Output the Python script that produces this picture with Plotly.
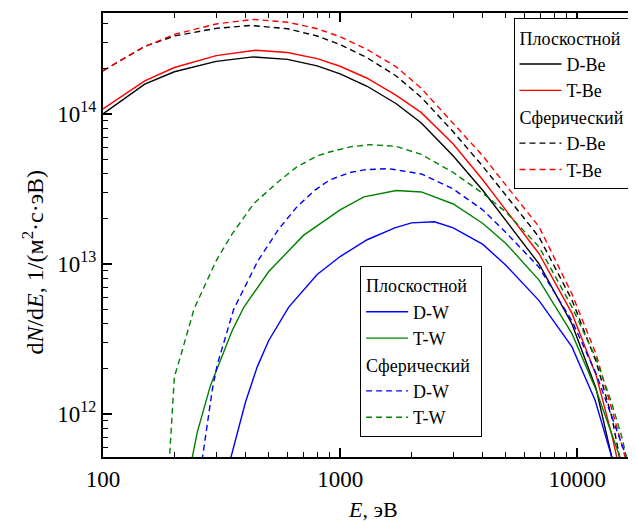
import plotly.graph_objects as go

# ---- data ----
E_dbe_pl = [100, 150, 200, 300, 430, 600, 800, 1000, 1300, 1725, 2200, 3000, 4000, 5000, 6900, 9500, 12000, 13960, 14500]
N_dbe_pl = [1.00e14, 1.58e14, 1.91e14, 2.24e14, 2.40e14, 2.31e14, 2.09e14, 1.85e14, 1.53e14, 1.17e14, 8.7e13, 5.25e13, 3.09e13, 1.95e13, 1.0e13, 3.98e12, 1.48e12, 5.2e11, 3.6e11]

E_tbe_pl = [100, 150, 200, 300, 440, 600, 800, 1000, 1300, 1725, 2200, 3000, 4000, 5000, 6900, 9500, 12000, 14000, 14660, 15200]
N_tbe_pl = [1.08e14, 1.66e14, 2.04e14, 2.45e14, 2.66e14, 2.57e14, 2.34e14, 2.08e14, 1.73e14, 1.33e14, 1.02e14, 6.3e13, 3.63e13, 2.28e13, 1.17e13, 4.68e12, 1.82e12, 7.2e11, 5.2e11, 3.7e11]

E_dbe_sp = [100, 150, 200, 300, 420, 600, 800, 1000, 1300, 1725, 2200, 3000, 4000, 5000, 6900, 9500, 12000, 14000, 15100, 15800]
N_dbe_sp = [1.94e14, 2.82e14, 3.31e14, 3.72e14, 3.89e14, 3.70e14, 3.31e14, 2.90e14, 2.37e14, 1.79e14, 1.29e14, 7.6e13, 4.47e13, 2.87e13, 1.51e13, 5.75e12, 2.24e12, 9.5e11, 5.2e11, 3.5e11]

E_tbe_sp = [100, 150, 200, 300, 430, 600, 800, 1000, 1300, 1725, 2200, 3000, 4000, 5000, 6900, 9500, 12000, 14000, 15900, 16600]
N_tbe_sp = [1.94e14, 2.82e14, 3.39e14, 3.98e14, 4.27e14, 4.09e14, 3.70e14, 3.27e14, 2.69e14, 2.06e14, 1.48e14, 8.7e13, 5.25e13, 3.35e13, 1.77e13, 6.3e12, 2.51e12, 1.07e12, 5.2e11, 3.8e11]

E_dw_pl = [340, 399, 447, 500, 607, 800, 1000, 1300, 1700, 2000, 2500, 3000, 4000, 5000, 6900, 9500, 11900, 13960, 14500]
N_dw_pl = [4.6e11, 1.2e12, 2.06e12, 3.09e12, 5.16e12, 8.5e12, 1.12e13, 1.45e13, 1.74e13, 1.88e13, 1.91e13, 1.74e13, 1.35e13, 9.8e12, 5.7e12, 2.8e12, 1.23e12, 5.2e11, 3.6e11]

E_tw_pl = [234, 250, 284, 351, 393, 500, 700, 1000, 1260, 1725, 2200, 3000, 4000, 5000, 6900, 9500, 12000, 14000, 15100, 15700]
N_tw_pl = [4.5e11, 7.6e11, 1.55e12, 3.61e12, 5.16e12, 8.9e12, 1.55e13, 2.29e13, 2.80e13, 3.09e13, 3.02e13, 2.51e13, 1.86e13, 1.37e13, 7.8e12, 3.43e12, 1.45e12, 7.4e11, 5.2e11, 4.0e11]

E_dw_sp = [258, 289, 303, 356, 450, 550, 657, 780, 903, 1100, 1260, 1600, 2200, 3000, 4000, 5000, 6900, 9500, 12000, 14000, 16100, 16800]
N_dw_sp = [4.2e11, 1.45e12, 2.12e12, 5.0e12, 1.05e13, 1.70e13, 2.40e13, 3.09e13, 3.63e13, 4.07e13, 4.24e13, 4.32e13, 3.98e13, 3.16e13, 2.29e13, 1.62e13, 9.5e12, 4.17e12, 1.86e12, 9.5e11, 5.2e11, 4.0e11]

E_tw_sp = [189, 200, 216, 242, 300, 350, 432, 550, 657, 800, 903, 1100, 1333, 1725, 2200, 3000, 4000, 5000, 6900, 9500, 12000, 14000, 15500, 16500]
N_tw_sp = [4.0e11, 1.77e12, 2.66e12, 5.0e12, 1.05e13, 1.58e13, 2.52e13, 3.55e13, 4.44e13, 5.25e13, 5.58e13, 6.03e13, 6.24e13, 6.08e13, 5.37e13, 4.07e13, 2.95e13, 2.22e13, 1.30e13, 5.16e12, 2.34e12, 1.17e12, 6.8e11, 4.3e11]

x_ticks = [100, 1000, 10000]
x_ticklabels = ["100", "1000", "10000"]
x_minor = [200, 300, 400, 500, 600, 700, 800, 900, 2000, 3000, 4000, 5000, 6000, 7000, 8000, 9000]
y_ticks = [1e12, 1e13, 1e14]
y_ticklabels = ["10<sup>12</sup>", "10<sup>13</sup>", "10<sup>14</sup>"]
y_minor = [6e11, 7e11, 8e11, 9e11] + [k * 1e12 for k in range(2, 10)] + [k * 1e13 for k in range(2, 10)] + [2e14, 3e14, 4e14]

x_title = "<i>E</i>, эВ"
y_title = "d<i>N</i>/d<i>E</i>, 1/(м<sup>2</sup>·с·эВ)"

FONT = "Liberation Serif"
DASH = "6px,4px"

series = [
    # x, y, name, color, dash, legend, group, group title
    (E_dbe_pl, N_dbe_pl, "D-Be", "black", "solid", "legend", "pBe", "Плоскостной"),
    (E_tbe_pl, N_tbe_pl, "T-Be", "red", "solid", "legend", "pBe", "Плоскостной"),
    (E_dbe_sp, N_dbe_sp, "D-Be", "black", DASH, "legend", "sBe", "Сферический"),
    (E_tbe_sp, N_tbe_sp, "T-Be", "red", DASH, "legend", "sBe", "Сферический"),
    (E_dw_pl, N_dw_pl, "D-W", "blue", "solid", "legend2", "pW", "Плоскостной"),
    (E_tw_pl, N_tw_pl, "T-W", "green", "solid", "legend2", "pW", "Плоскостной"),
    (E_dw_sp, N_dw_sp, "D-W", "blue", DASH, "legend2", "sW", "Сферический"),
    (E_tw_sp, N_tw_sp, "T-W", "green", DASH, "legend2", "sW", "Сферический"),
]

fig = go.Figure()
for x, y, name, color, dash, leg, grp, gtitle in series:
    fig.add_trace(go.Scatter(
        x=x, y=y, mode="lines", name=name,
        line=dict(color=color, width=1.4, dash=dash),
        legend=leg, legendgroup=grp,
        legendgrouptitle=dict(text=gtitle, font=dict(family=FONT, size=18, color="black")),
    ))

legend_common = dict(
    bgcolor="white", bordercolor="black", borderwidth=1,
    font=dict(family=FONT, size=18, color="black"),
    traceorder="grouped", tracegroupgap=0, itemwidth=42,
    xanchor="left", yanchor="top",
)

fig.update_layout(
    width=636, height=526,
    margin=dict(l=95, r=0, t=5, b=77),
    paper_bgcolor="white", plot_bgcolor="white",
    font=dict(family=FONT, color="black"),
    legend=dict(x=0.7616, y=0.988, **legend_common),
    legend2=dict(x=0.477, y=0.43, **legend_common),
    xaxis=dict(
        type="log", range=[2, 4.273],
        tickmode="array", tickvals=x_ticks, ticktext=x_ticklabels,
        ticks="inside", ticklen=9, tickwidth=1.5, tickcolor="black",
        minor=dict(tickmode="array", tickvals=x_minor, ticks="inside", ticklen=5, tickwidth=1.2, tickcolor="black", showgrid=False),
        showline=True, linecolor="black", linewidth=2, mirror="ticks",
        showgrid=False, zeroline=False,
        tickfont=dict(family=FONT, size=23, color="black"),
    ),
    yaxis=dict(
        type="log", range=[11.713, 14.673],
        tickmode="array", tickvals=y_ticks, ticktext=y_ticklabels,
        ticks="inside", ticklen=9, tickwidth=1.5, tickcolor="black",
        minor=dict(tickmode="array", tickvals=y_minor, ticks="inside", ticklen=5, tickwidth=1.2, tickcolor="black", showgrid=False),
        showline=True, linecolor="black", linewidth=2, mirror="ticks",
        showgrid=False, zeroline=False,
        tickfont=dict(family=FONT, size=23, color="black"),
    ),
    annotations=[
        dict(text=x_title, xref="paper", yref="paper", x=0.5, y=-0.118,
             xanchor="center", yanchor="middle", showarrow=False,
             font=dict(family=FONT, size=22, color="black")),
        dict(text=y_title, xref="paper", yref="paper", x=-0.13, y=0.44,
             xanchor="center", yanchor="middle", showarrow=False, textangle=-90,
             font=dict(family=FONT, size=24, color="black")),
    ],
)

fig.write_html("out.html")
